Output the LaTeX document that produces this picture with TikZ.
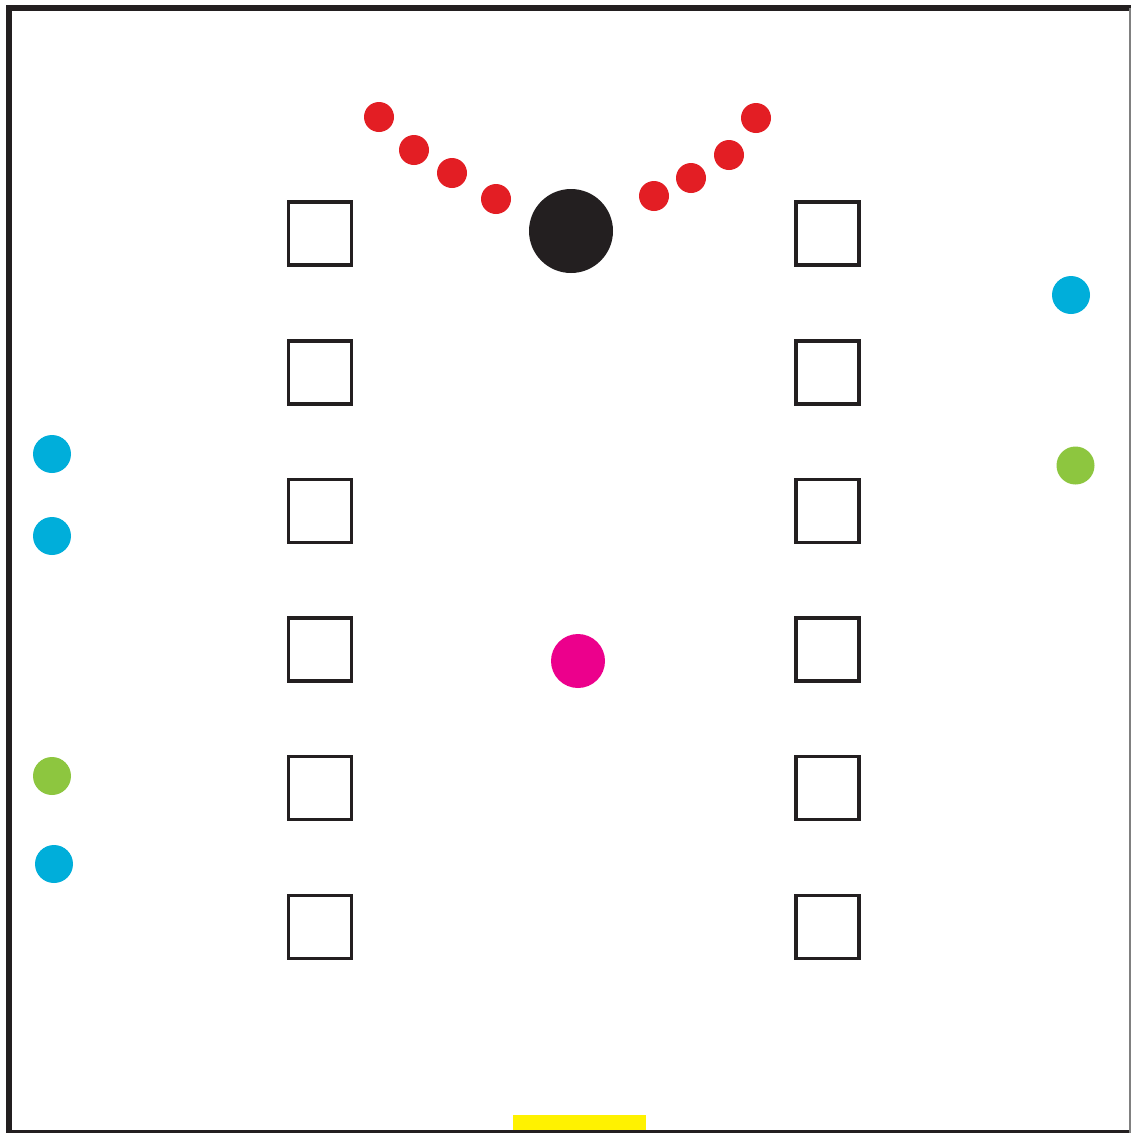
\documentclass[tikz,border=0pt]{standalone}
\definecolor{dotred}{HTML}{E31E24}
\definecolor{dotblue}{HTML}{00AEDA}
\definecolor{dotgreen}{HTML}{8DC63F}
\definecolor{dotmag}{HTML}{EC008C}
\definecolor{baryel}{HTML}{FFF200}
\definecolor{ink}{HTML}{231F20}
\begin{document}
\begin{tikzpicture}[x=1pt,y=-1pt,
  seat/.style={draw=ink,line width=3.6pt,minimum size=63pt,inner sep=0pt,shape=rectangle},
  dot/.style={circle,inner sep=0pt,draw=none},
  reddot/.style={dot,fill=dotred,minimum size=30pt},
  bluedot/.style={dot,fill=dotblue,minimum size=38pt},
  greendot/.style={dot,fill=dotgreen,minimum size=38pt}]
\useasboundingbox (0,0) rectangle (1131,1133);
\fill[white] (0,0) rectangle (1131,1133);
% walls
\draw[ink,line width=6pt] (9,1133) -- (9,8) -- (1131,8);
\draw[ink,line width=3pt] (9,1131.5) -- (1131,1131.5);
\draw[gray,line width=1.2pt] (1130,8) -- (1130,1133);
% yellow bar
\fill[baryel] (513,1115) rectangle (646,1130);
% squares
\foreach \i/\y in {1/233.5,2/372.5,3/511,4/649.5,5/788,6/927}{
  \node[seat] (L\i) at (320,\y) {};
  \node[seat] (R\i) at (827.5,\y) {};
}
% black circle
\node[dot,fill=ink,minimum size=84pt] (big) at (571,231) {};
% magenta
\node[dot,fill=dotmag,minimum size=54pt] (mag) at (578,661) {};
% red dots
\node[reddot] (r1) at (379,117) {};
\node[reddot] (r2) at (414,150) {};
\node[reddot] (r3) at (452,173) {};
\node[reddot] (r4) at (496,199) {};
\node[reddot] (r5) at (654,196) {};
\node[reddot] (r6) at (691,178) {};
\node[reddot] (r7) at (729,155) {};
\node[reddot] (r8) at (756,118) {};
% blue and green
\node[bluedot] (b1) at (1071,295) {};
\node[greendot] (g1) at (1075.5,465.5) {};
\node[bluedot] (b2) at (52,454) {};
\node[bluedot] (b3) at (52,536) {};
\node[greendot] (g2) at (52,776) {};
\node[bluedot] (b4) at (54,864) {};
\end{tikzpicture}
\end{document}
